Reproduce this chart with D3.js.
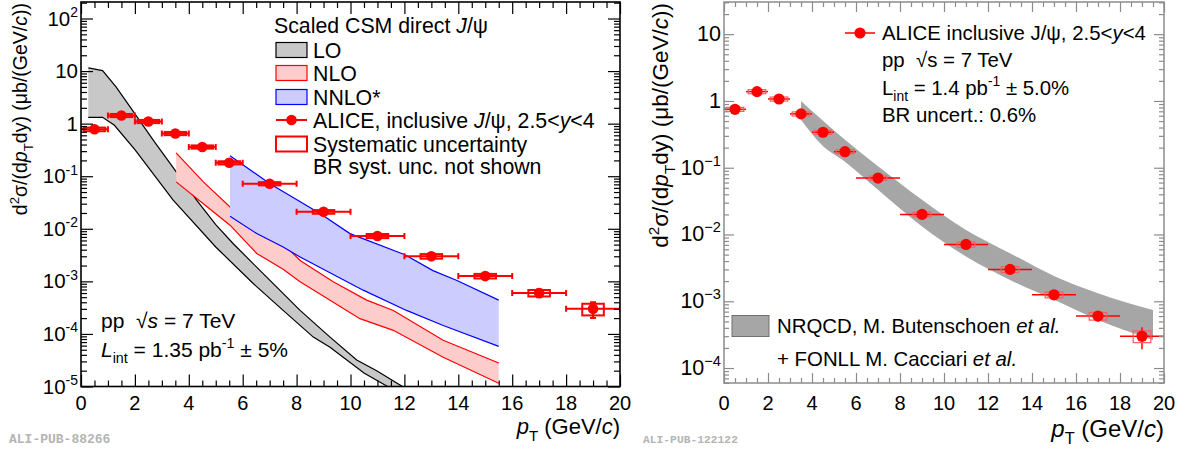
<!DOCTYPE html>
<html>
<head>
<meta charset="utf-8">
<script src="https://cdn.jsdelivr.net/npm/d3@7"></script>
<style>
  body { margin: 0; background: #fff; }
  text { white-space: pre; }
</style>
</head>
<body>
<script>
// pT binning shared by both panels
const ptMid = [0.5, 1.5, 2.5, 3.5, 4.5, 5.5, 7, 9, 11, 13, 15, 17, 19];
const ptLo = [0, 1, 2, 3, 4, 5, 6, 8, 10, 12, 14, 16, 18];
const ptHi = [1, 2, 3, 4, 5, 6, 8, 10, 12, 14, 16, 18, 20];

// Left panel: ALICE inclusive J/psi (ub/(GeV/c)), relative stat and syst errors
const aliceL = [0.78, 1.43, 1.1, 0.65, 0.36, 0.18, 0.072, 0.021, 0.0073, 0.003, 0.00126, 0.0006, 0.0003];
const statL = [0.02, 0.02, 0.02, 0.02, 0.03, 0.03, 0.04, 0.05, 0.07, 0.09, 0.12, 0.17, 0.33];
const sysL = [0.08, 0.07, 0.07, 0.07, 0.07, 0.07, 0.07, 0.08, 0.09, 0.1, 0.1, 0.14, 0.25];

// Left panel: scaled CSM bands (upper / lower edges)
const loUpPt = [0.27, 0.8, 1.3, 1.86, 2.7, 3.71, 4.29, 5.0, 5.65, 6.89, 8.13, 9.24, 10.23, 10.97, 12.0];
const loUp = [11.5, 10.2, 5.0, 1.95, 0.47, 0.091, 0.035, 0.012, 0.0052, 0.0012, 2.8e-4, 8.7e-5, 3.2e-5, 2.0e-5, 9.5e-6];
const loDnPt = [0.27, 0.8, 1.24, 2.0, 3.42, 5.0, 6.39, 7.5, 8.62, 9.24, 10.5, 11.45];
const loDn = [1.32, 1.32, 0.93, 0.32, 0.035, 0.0045, 9.1e-4, 2.8e-4, 8.7e-5, 5.6e-5, 1.8e-5, 9.5e-6];

const nloUpPt = [3.53, 4.54, 5.53, 6.52, 7.5, 8.13, 9.36, 10.6, 11.59, 13.44, 15.5];
const nloUp = [0.278, 0.078, 0.026, 0.0126, 0.0052, 0.0025, 9.8e-4, 4.4e-4, 2.8e-4, 7.6e-5, 2.8e-5];
const nloDnPt = [3.53, 4.54, 5.53, 6.52, 7.5, 8.13, 10.35, 11.59, 13.44, 15.5];
const nloDn = [0.078, 0.030, 0.0117, 0.0034, 0.0017, 9.8e-4, 1.95e-4, 1.17e-4, 3.6e-5, 1.15e-5];

const nnloUpPt = [5.53, 7.01, 8.87, 9.98, 12.02, 13.06, 13.93, 15.5];
const nnloUp = [0.245, 0.072, 0.0195, 0.0081, 0.0032, 0.0016, 0.00105, 4.4e-4];
const nnloDnPt = [5.53, 6.52, 7.5, 8.13, 10.47, 12.08, 13.44, 15.5];
const nnloDn = [0.0174, 0.0081, 0.0045, 0.0029, 6.8e-4, 2.8e-4, 1.45e-4, 5.8e-5];

// Right panel: ALICE inclusive J/psi
const aliceR = [0.75, 1.38, 1.07, 0.64, 0.34, 0.174, 0.07, 0.02, 0.0071, 0.003, 0.00125, 0.0006, 0.0003];
const statR = [0.03, 0.02, 0.02, 0.02, 0.03, 0.03, 0.04, 0.05, 0.07, 0.09, 0.12, 0.17, 0.36];
const sysR = [0.07, 0.07, 0.07, 0.07, 0.07, 0.07, 0.07, 0.08, 0.09, 0.1, 0.1, 0.13, 0.2];

// Right panel: NRQCD + FONLL band
const nrqcdPt = [3.5, 4.45, 5.5, 7, 9, 11, 13, 15, 17, 19.5];
const nrqcdUp = [1.0, 0.525, 0.263, 0.105, 0.0331, 0.0117, 0.00525, 0.0024, 0.00132, 7.4e-4];
const nrqcdDn = [0.525, 0.219, 0.123, 0.0468, 0.0132, 0.00468, 0.00209, 0.00105, 5.25e-4, 2.63e-4];

const RED = '#ff0000';
const svg = d3.select('body').append('svg')
  .attr('width', 1181).attr('height', 450)
  .style('font-family', '"Liberation Sans", Arial, Helvetica, sans-serif');

// text with italic / sub / sup runs
function rich(g, x, y, size, parts, anchor = 'start') {
  const t = g.append('text').attr('x', x).attr('y', y)
    .attr('font-size', size).attr('text-anchor', anchor).attr('fill', '#000');
  let cur = 0;
  parts.forEach((p) => {
    const [str, st = ''] = Array.isArray(p) ? p : [p];
    const flags = st.split(' ');
    const off = flags.includes('sub') ? size * 0.3 : flags.includes('sup') ? -size * 0.42 : 0;
    const ts = t.append('tspan').text(str).attr('dy', off - cur);
    if (off) ts.attr('font-size', size * 0.68);
    if (flags.includes('it')) ts.attr('font-style', 'italic');
    cur = off;
  });
  return t;
}

function makePanel(cfg) {
  const g = svg.append('g');
  const x = d3.scaleLinear().domain([0, 20]).range([cfg.x0, cfg.x1]);
  const y = d3.scaleLog().domain(cfg.yDomain).range([cfg.yBot, cfg.yTop]);
  const clipId = 'clip' + cfg.id;
  svg.append('clipPath').attr('id', clipId).append('rect')
    .attr('x', cfg.x0).attr('y', cfg.yTop)
    .attr('width', cfg.x1 - cfg.x0).attr('height', cfg.yBot - cfg.yTop);
  const plot = g.append('g').attr('clip-path', `url(#${clipId})`);
  return {g, x, y, plot, cfg};
}

function drawAxes(p) {
  const {g, x, y, cfg} = p;
  const xMaj = d3.range(0, 21, 2);
  const xMin = d3.range(0, 20.01, 0.5).filter((v) => v % 2 !== 0);
  const [lo, hi] = cfg.yDomain;
  const yMaj = [], yMin = [];
  for (let e = Math.floor(Math.log10(lo)); e <= Math.ceil(Math.log10(hi)); e++) {
    for (let m = 1; m <= 9; m++) {
      const v = m * Math.pow(10, e);
      if (v < lo * 0.999 || v > hi * 1.001) continue;
      (m === 1 ? yMaj : yMin).push(v);
    }
  }
  const axes = [
    [d3.axisBottom(x), `translate(0,${cfg.yBot})`, xMaj, xMin],
    [d3.axisTop(x), `translate(0,${cfg.yTop})`, xMaj, xMin],
    [d3.axisLeft(y), `translate(${cfg.x0},0)`, yMaj, yMin],
    [d3.axisRight(y), `translate(${cfg.x1},0)`, yMaj, yMin],
  ];
  axes.forEach(([ax, tr, maj, min]) => {
    [[maj, cfg.tickMaj], [min, cfg.tickMin]].forEach(([vals, len]) => {
      const a = g.append('g').attr('transform', tr)
        .call(ax.tickValues(vals).tickSize(-len).tickFormat(''));
      a.select('.domain').remove();
      a.selectAll('line').attr('stroke', cfg.frameColor).attr('stroke-width', cfg.tickWidth);
    });
  });
  g.append('rect')
    .attr('x', cfg.x0).attr('y', cfg.yTop)
    .attr('width', cfg.x1 - cfg.x0).attr('height', cfg.yBot - cfg.yTop)
    .attr('fill', 'none').attr('stroke', cfg.frameColor).attr('stroke-width', cfg.frameWidth);

  // tick labels
  xMaj.forEach((v) => {
    g.append('text').attr('x', x(v)).attr('y', cfg.xLabelY)
      .attr('text-anchor', 'middle').attr('font-size', cfg.xLabelSize).text(v);
  });
  yMaj.forEach((v) => {
    const e = Math.round(Math.log10(v));
    const parts = e === 0 ? ['1'] : e === 1 ? ['10'] : ['10', [(e < 0 ? cfg.minus : '') + Math.abs(e), 'sup']];
    rich(g, cfg.yLabelX, y(v) + 7, cfg.yLabelSize, parts, 'end');
  });

  // axis titles
  rich(g, cfg.x1, cfg.xTitleY, cfg.xTitleSize,
    [['p', 'it'], ['T', 'sub'], ' (GeV/', ['c', 'it'], ')'], 'end');
  rich(g, -cfg.yTop - 1, cfg.yTitleX, cfg.yTitleSize,
    ['d', ['2', 'sup'], 'σ/(d', ['p', 'it'], ['T', 'sub'], 'dy) (μb/(GeV/', ['c', 'it'], '))'], 'end')
    .attr('transform', 'rotate(-90)');
}

function band(p, upPt, up, dnPt, dn, fill, stroke, curve) {
  const {x, y, plot} = p;
  if (curve) {
    const area = d3.area().curve(curve)
      .x((d, i) => x(upPt[i])).y0((d, i) => y(dn[i])).y1((d, i) => y(up[i]));
    plot.append('path').attr('d', area(upPt)).attr('fill', fill);
    return;
  }
  const pts = upPt.map((v, i) => [x(v), y(up[i])])
    .concat(dnPt.map((v, i) => [x(v), y(dn[i])]).reverse());
  plot.append('path').attr('d', 'M' + pts.join('L') + 'Z').attr('fill', fill);
  const line = d3.line();
  [[upPt, up], [dnPt, dn]].forEach(([px, py]) => {
    plot.append('path').attr('d', line(px.map((v, i) => [x(v), y(py[i])])))
      .attr('fill', 'none').attr('stroke', stroke).attr('stroke-width', 1.2);
  });
}

function points(p, vals, stat, sys, st) {
  const {x, y, plot} = p;
  const gp = plot.append('g');
  vals.forEach((v, i) => {
    const cx = x(ptMid[i]), cy = y(v);
    // horizontal bin-width bar
    gp.append('line').attr('x1', x(ptLo[i])).attr('x2', x(ptHi[i]))
      .attr('y1', cy).attr('y2', cy).attr('stroke', RED).attr('stroke-width', st.barW);
    // vertical stat bar
    const yu = y(v * (1 + stat[i])), yd = y(v * (1 - stat[i]));
    gp.append('line').attr('x1', cx).attr('x2', cx).attr('y1', yu).attr('y2', yd)
      .attr('stroke', RED).attr('stroke-width', st.barW);
    if (st.caps) {
      [x(ptLo[i]), x(ptHi[i])].forEach((ex) => {
        gp.append('line').attr('x1', ex).attr('x2', ex).attr('y1', cy - 3).attr('y2', cy + 3)
          .attr('stroke', RED).attr('stroke-width', st.barW);
      });
      [yu, yd].forEach((ey) => {
        gp.append('line').attr('x1', cx - 3).attr('x2', cx + 3).attr('y1', ey).attr('y2', ey)
          .attr('stroke', RED).attr('stroke-width', st.barW);
      });
    }
    // systematic box
    const bt = y(v * (1 + sys[i])), bb = y(v * (1 - sys[i]));
    gp.append('rect').attr('x', x(ptMid[i] - 0.4)).attr('y', bt)
      .attr('width', x(ptMid[i] + 0.4) - x(ptMid[i] - 0.4)).attr('height', bb - bt)
      .attr('fill', 'none').attr('stroke', st.boxColor).attr('stroke-width', st.boxW);
  });
  gp.selectAll('circle.pt').data(vals).join('circle').attr('class', 'pt')
    .attr('cx', (d, i) => x(ptMid[i])).attr('cy', (d) => y(d))
    .attr('r', st.r).attr('fill', RED);
}

// ---------------- Left panel ----------------
const left = makePanel({
  id: 'L', x0: 81, x1: 620, yTop: 2, yBot: 386.5,
  yDomain: [1e-5, Math.pow(10, 2.314)],
  frameColor: '#000', frameWidth: 1.6, tickWidth: 1.2, tickMaj: 12, tickMin: 6,
  xLabelY: 409.5, xLabelSize: 20, yLabelX: 78, yLabelSize: 20.5, minus: '-',
  xTitleY: 434, xTitleSize: 22, yTitleX: 27, yTitleSize: 19.5,
});
band(left, loUpPt, loUp, loDnPt, loDn, '#c8c8c8', '#000');
band(left, nloUpPt, nloUp, nloDnPt, nloDn, '#ffcccc', RED);
band(left, nnloUpPt, nnloUp, nnloDnPt, nnloDn, '#ccccff', '#0000ff');
points(left, aliceL, statL, sysL, {barW: 2, caps: true, boxColor: RED, boxW: 2, r: 5.3});
drawAxes(left);

// left legend
const lg = left.g.append('g');
rich(lg, 274, 33, 21.3, ['Scaled CSM direct ', ['J', 'it'], '/ψ']);
const legRows = [
  {y: 50, fill: '#c8c8c8', stroke: '#000', text: ['LO']},
  {y: 73, fill: '#ffcccc', stroke: RED, text: ['NLO']},
  {y: 97, fill: '#ccccff', stroke: '#0000ff', text: ['NNLO*']},
  {y: 120, marker: true, text: ['ALICE, inclusive ', ['J', 'it'], '/ψ, 2.5<', ['y', 'it'], '<4']},
  {y: 144, fill: '#fff', stroke: RED, sw: 2, text: ['Systematic uncertainty']},
  {y: 166, text: ['BR syst. unc. not shown']},
];
legRows.forEach((r) => {
  if (r.marker) {
    lg.append('line').attr('x1', 276).attr('x2', 307).attr('y1', r.y).attr('y2', r.y)
      .attr('stroke', RED).attr('stroke-width', 2);
    lg.append('circle').attr('cx', 291.5).attr('cy', r.y).attr('r', 5.3).attr('fill', RED);
  } else if (r.fill) {
    lg.append('rect').attr('x', 276).attr('y', r.y - 7.5).attr('width', 31).attr('height', 15)
      .attr('fill', r.fill).attr('stroke', r.stroke).attr('stroke-width', r.sw || 1.2);
  }
  rich(lg, 313, r.y + 7.5, 21.3, r.text);
});
rich(lg, 101, 328, 21, ['pp  √', ['s', 'it'], ' = 7 TeV']);
rich(lg, 101, 357, 21, [['L', 'it'], ['int', 'sub'], ' = 1.35 pb', ['-1', 'sup'], ' ± 5%']);
svg.append('text').attr('x', 9).attr('y', 443).attr('font-size', 13)
  .attr('font-family', '"Liberation Mono", monospace').attr('font-weight', 'bold')
  .attr('fill', '#b4b4b4').text('ALI-PUB-88266');

// ---------------- Right panel ----------------
const right = makePanel({
  id: 'R', x0: 724, x1: 1164, yTop: 2, yBot: 383,
  yDomain: [Math.pow(10, -4.224), Math.pow(10, 1.482)],
  frameColor: '#8c8c8c', frameWidth: 1.5, tickWidth: 1.2, tickMaj: 10, tickMin: 5,
  xLabelY: 409.5, xLabelSize: 20, yLabelX: 721, yLabelSize: 21.5, minus: '−',
  xTitleY: 437, xTitleSize: 24, yTitleX: 668, yTitleSize: 22.5,
});
band(right, nrqcdPt, nrqcdUp, nrqcdPt, nrqcdDn, '#a6a6a6', null, d3.curveMonotoneX);
points(right, aliceR, statR, sysR, {barW: 1.5, caps: false, boxColor: '#ff5a5a', boxW: 1.2, r: 5.6});
drawAxes(right);

const rg = right.g.append('g');
rg.append('line').attr('x1', 845).attr('x2', 875).attr('y1', 33).attr('y2', 33)
  .attr('stroke', RED).attr('stroke-width', 1.5);
rg.append('circle').attr('cx', 860).attr('cy', 33).attr('r', 5.6).attr('fill', RED);
rich(rg, 882, 40, 20.4, ['ALICE inclusive J/ψ, 2.5<', ['y', 'it'], '<4']);
rich(rg, 882, 67, 20.4, ['pp  √s = 7 TeV']);
rich(rg, 882, 94.5, 20.4, ['L', ['int', 'sub'], ' = 1.4 pb', ['-1', 'sup'], ' ± 5.0%']);
rich(rg, 882, 121.5, 20.4, ['BR uncert.: 0.6%']);

rg.append('rect').attr('x', 732).attr('y', 315.5).attr('width', 37).attr('height', 21)
  .attr('fill', '#a6a6a6').attr('stroke', '#707070').attr('stroke-width', 1);
rich(rg, 777, 333, 20.4, ['NRQCD, M. Butenschoen ', ['et al.', 'it']]);
rich(rg, 777, 366, 20.4, ['+ FONLL M. Cacciari ', ['et al.', 'it']]);
svg.append('text').attr('x', 643).attr('y', 443).attr('font-size', 11.3)
  .attr('font-family', '"Liberation Mono", monospace').attr('font-weight', 'bold')
  .attr('fill', '#b4b4b4').text('ALI-PUB-122122');
</script>
</body>
</html>
